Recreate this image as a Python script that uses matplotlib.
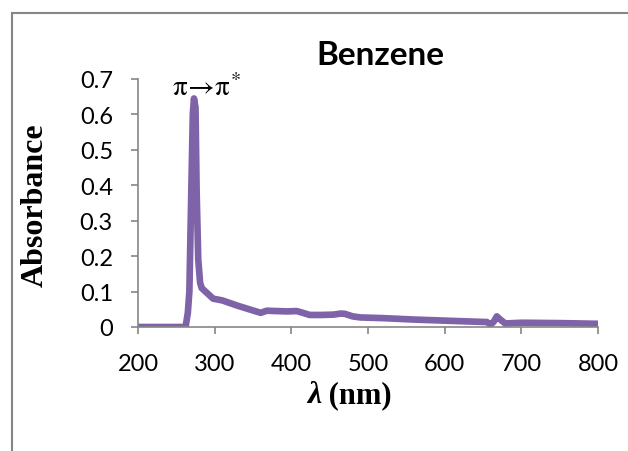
import matplotlib
matplotlib.use('Agg')
import matplotlib.pyplot as plt
from matplotlib.patches import Rectangle

# wavelength (nm) and absorbance
wavelength = [200, 262, 265, 267, 269.5, 271.5, 273, 275, 276.5, 278.6, 281, 283, 288,
              298, 310, 330, 345, 360, 368, 380, 395, 407, 415, 424, 440, 455,
              465, 470, 480, 490, 520, 560, 600, 640, 655, 660, 664, 668, 672,
              679, 700, 750, 800]
absorbance = [0, 0, 0.04, 0.1, 0.38, 0.6, 0.645, 0.62, 0.38, 0.19, 0.125, 0.11, 0.1,
              0.08, 0.075, 0.06, 0.05, 0.04, 0.046, 0.045, 0.044, 0.045, 0.04, 0.034, 0.034, 0.035,
              0.038, 0.037, 0.03, 0.027, 0.025, 0.021, 0.018, 0.015, 0.014, 0.007, 0.015, 0.03, 0.022,
              0.01, 0.012, 0.011, 0.009]

xticks = [200, 300, 400, 500, 600, 700, 800]
yticks = [0, 0.1, 0.2, 0.3, 0.4, 0.5, 0.6, 0.7]
ytick_labels = ['0', '0.1', '0.2', '0.3', '0.4', '0.5', '0.6', '0.7']

gray = '#868686'
W, H = 628, 452

plt.rcParams['mathtext.fontset'] = 'stix'

fig = plt.figure(figsize=(W / 100, H / 100), dpi=100)
# outer chart-area border
fig.patches.append(Rectangle((12 / W, -0.1), 1.2, (H - 14) / H + 0.1,
                             transform=fig.transFigure, fill=False,
                             edgecolor=gray, linewidth=1.5))

ax = fig.add_axes([138 / W, (H - 328) / H, 460 / W, 248 / H])
ax.plot(wavelength, absorbance, color='#7F63A8', linewidth=4.8,
        solid_joinstyle='round', solid_capstyle='butt')

ax.set_xlim(200, 800)
ax.set_ylim(0, 0.7)
ax.set_xticks(xticks)
ax.set_yticks(yticks)
ax.set_yticklabels(ytick_labels)

for s in ['top', 'right']:
    ax.spines[s].set_visible(False)
for s in ['left', 'bottom']:
    ax.spines[s].set_color(gray)
    ax.spines[s].set_linewidth(1.2)
ax.tick_params(direction='out', length=5, width=1.2, color=gray, labelsize=17)
ax.tick_params(axis='y', pad=13)
ax.tick_params(axis='x', pad=14)
for lbl in ax.get_xticklabels() + ax.get_yticklabels():
    lbl.set_family('Lato')


def px(x, y):
    return x / W, 1 - y / H


# title, axis titles and the transition label
fig.text(*px(380, 65), 'Benzene', fontsize=24, fontweight='bold', family='Lato',
         ha='center', va='baseline')
fig.text(*px(35, 205), 'Absorbance', fontsize=23, fontweight='bold',
         family='Liberation Serif', rotation=90, ha='center', va='center')
fig.text(*px(321, 403), 'λ', fontsize=23, fontweight='bold', style='italic',
         family='Liberation Serif', ha='right', va='baseline')
fig.text(*px(321, 403), ' (nm)', fontsize=22, fontweight='bold',
         family='Liberation Serif', ha='left', va='baseline')
fig.text(*px(206, 96), r'$\mathrm{\pi}\!\rightarrow\!\mathrm{\pi}^{*}$', fontsize=21,
         ha='center', va='baseline')

plt.savefig('out.png', dpi=100)
